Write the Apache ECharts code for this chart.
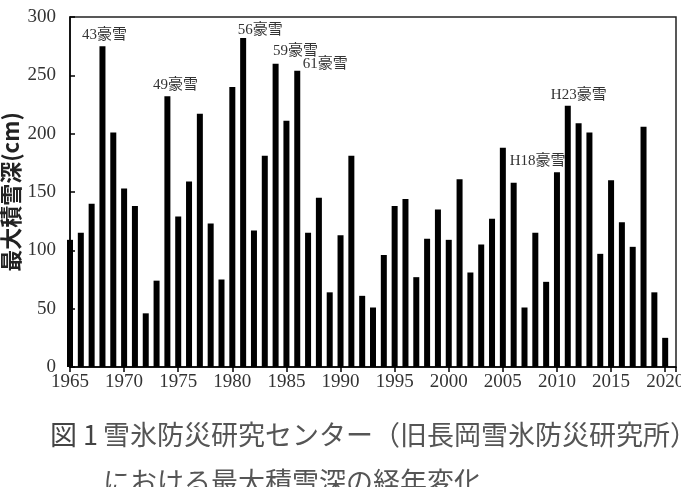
<!DOCTYPE html>
<html>
<head>
<meta charset="utf-8">
<script src="https://cdn.jsdelivr.net/npm/echarts@6/dist/echarts.min.js"></script>
<style>
  html, body { margin: 0; padding: 0; background: #fff; }
  #main { width: 681px; height: 487px; }
</style>
</head>
<body>
<div id="main"></div>
<script>
// 最大積雪深 (cm) — 年ごと
const years = [
  1965, 1966, 1967, 1968, 1969, 1970, 1971, 1972, 1973, 1974,
  1975, 1976, 1977, 1978, 1979, 1980, 1981, 1982, 1983, 1984,
  1985, 1986, 1987, 1988, 1989, 1990, 1991, 1992, 1993, 1994,
  1995, 1996, 1997, 1998, 1999, 2000, 2001, 2002, 2003, 2004,
  2005, 2006, 2007, 2008, 2009, 2010, 2011, 2012, 2013, 2014,
  2015, 2016, 2017, 2018, 2019, 2020
];
const snowDepth = [
  109, 115, 140, 275, 201, 153, 138, 46, 74, 232,
  129, 159, 217, 123, 75, 240, 282, 117, 181, 260,
  211, 254, 115, 145, 64, 113, 181, 61, 51, 96,
  138, 144, 77, 110, 135, 109, 161, 81, 105, 127,
  188, 158, 51, 115, 73, 167, 224, 209, 201, 97,
  160, 124, 103, 206, 64, 25
];
// 豪雪の注記
const eventYears = [1968, 1974, 1981, 1984, 1986, 2006, 2011];
const eventNames = ['43豪雪', '49豪雪', '56豪雪', '59豪雪', '61豪雪', 'H18豪雪', 'H23豪雪'];
const yTicks = [0, 50, 100, 150, 200, 250, 300];

// label offsets (px) so the notes sit where they do in the figure
const labelOffsets = {
  1968: [2, 0], 1974: [8, 0], 1981: [17, 4], 1984: [20, -1],
  1986: [28, 5], 2006: [24, -10], 2011: [11, 1]
};

const serif = '"Liberation Serif", "Noto Sans CJK JP", serif';
const capFont = '27px "Noto Sans CJK JP"';

const barData = years.map((y, i) => {
  const k = eventYears.indexOf(y);
  const item = { value: [y, snowDepth[i]] };
  if (k >= 0) {
    item.label = {
      show: true,
      position: 'top',
      distance: 4,
      offset: labelOffsets[y],
      formatter: eventNames[k],
      fontFamily: serif,
      fontSize: 15,
      color: '#333'
    };
  }
  return item;
});

const chart = echarts.init(document.getElementById('main'));
chart.setOption({
  backgroundColor: '#fff',
  animation: false,
  grid: {
    left: 70, right: 5, top: 17, bottom: 120,
    outerBoundsMode: 'none',
    containLabel: false,
    show: true, borderColor: '#222', borderWidth: 1.5
  },
  xAxis: {
    type: 'value',
    min: 1965, max: 2021, interval: 5,
    splitLine: { show: false },
    axisLine: { lineStyle: { color: '#000', width: 1.5 } },
    axisTick: { show: true, length: 5, lineStyle: { color: '#000', width: 1.5 } },
    axisLabel: {
      margin: 6,
      fontFamily: serif, fontSize: 19, color: '#333',
      formatter: v => (v % 5 === 0 ? String(v) : '')
    }
  },
  yAxis: {
    type: 'value',
    min: yTicks[0], max: yTicks[yTicks.length - 1], interval: 50,
    name: '最大積雪深(cm)',
    nameLocation: 'middle',
    nameGap: 48,
    nameMoveOverlap: false,
    nameTextStyle: {
      fontFamily: '"Noto Sans CJK JP", sans-serif',
      fontSize: 22, color: '#222', fontWeight: 'bold'
    },
    splitLine: { show: false },
    axisLine: { show: true, lineStyle: { color: '#000', width: 1.5 } },
    axisTick: { show: true, inside: true, length: 5, lineStyle: { color: '#000', width: 1.5 } },
    axisLabel: { margin: 14, fontFamily: serif, fontSize: 19, color: '#333' }
  },
  series: [{
    type: 'bar',
    data: barData,
    barWidth: 6,
    clip: true,
    itemStyle: { color: '#000' }
  }],
  graphic: [
    {
      type: 'text', left: 50, top: 421,
      style: { text: '図 1', font: capFont, fill: '#444' }
    },
    {
      type: 'text', left: 103, top: 421,
      style: { text: '雪氷防災研究センター（旧長岡雪氷防災研究所）', font: capFont, fill: '#555' }
    },
    {
      type: 'text', left: 103, top: 468,
      style: { text: 'における最大積雪深の経年変化', font: capFont, fill: '#555' }
    }
  ]
});
</script>
</body>
</html>
